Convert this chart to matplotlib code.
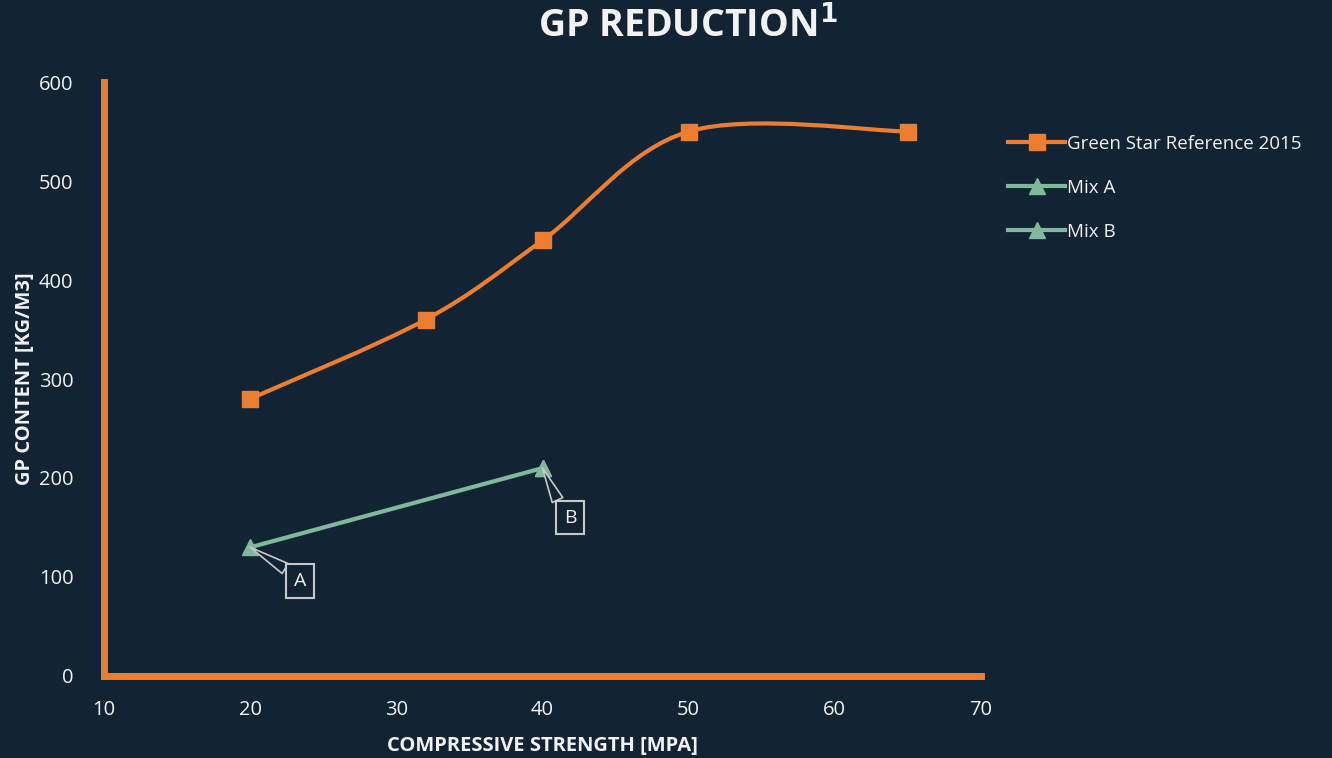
import matplotlib.pyplot as plt
from matplotlib.path import Path
from matplotlib.patches import PathPatch

plt.rcParams['font.family'] = ['Open Sans', 'DejaVu Sans']

bg = '#122434'
orange = '#ed7d31'
green = '#7fb89a'
txt = '#f2f2f2'

ref_x = [20, 32, 40, 50, 65]
ref_y = [280, 360, 440, 550, 550]
mix_a_x = [20, 40]
mix_a_y = [130, 210]
mix_b_x = [40]
mix_b_y = [210]


def smooth_path(xs, ys):
    # excel-like smoothed line: bezier segments, tension 1/6
    pts = list(zip(xs, ys))
    n = len(pts)
    verts = [pts[0]]
    codes = [Path.MOVETO]
    for i in range(n - 1):
        p0 = pts[i - 1] if i > 0 else pts[i]
        p1 = pts[i]
        p2 = pts[i + 1]
        p3 = pts[i + 2] if i + 2 < n else pts[i + 1]
        c1 = (p1[0] + (p2[0] - p0[0]) / 6, p1[1] + (p2[1] - p0[1]) / 6)
        c2 = (p2[0] - (p3[0] - p1[0]) / 6, p2[1] - (p3[1] - p1[1]) / 6)
        verts += [c1, c2, p2]
        codes += [Path.CURVE4] * 3
    return Path(verts, codes)


fig = plt.figure(figsize=(13.32, 7.58), dpi=100, facecolor=bg)
ax = fig.add_axes([0.0781, 0.1082, 0.6584, 0.7836], facecolor=bg)

ax.add_patch(PathPatch(smooth_path(ref_x, ref_y), fc='none', ec=orange, lw=3, zorder=3))
ax.plot(ref_x, ref_y, color=orange, lw=3, marker='s', ms=12, ls='none', zorder=4)
# legend proxies
ax.plot([], [], color=orange, lw=3, marker='s', ms=12, label='Green Star Reference 2015')
ax.plot(mix_a_x, mix_a_y, color=green, lw=3, marker='^', ms=12, label='Mix A', zorder=4)
ax.plot(mix_b_x, mix_b_y, color=green, lw=3, marker='^', ms=12, label='Mix B', zorder=4)

box = dict(boxstyle='square,pad=0.4', fc=bg, ec='#c8c8c8', lw=1.5)
wedge = dict(arrowstyle='wedge,tail_width=0.6', fc=bg, ec='#c8c8c8', lw=1.2, shrinkA=0, shrinkB=0)
ax.annotate('A', xy=(mix_a_x[0], mix_a_y[0]), xytext=(23.4, 96), color=txt, fontsize=14,
            ha='center', va='center', bbox=box, arrowprops=dict(wedge, relpos=(0, 0.9)), zorder=5)
ax.annotate('B', xy=(mix_b_x[0], mix_b_y[0]), xytext=(41.9, 160), color=txt, fontsize=14,
            ha='center', va='center', bbox=box, arrowprops=dict(wedge, relpos=(0, 0.7)), zorder=5)

ax.set_xlim(10, 70)
ax.set_ylim(0, 600)
ax.set_xticks(range(10, 71, 10))
ax.set_yticks(range(0, 601, 100))
for s in ['top', 'right']:
    ax.spines[s].set_visible(False)
for s in ['left', 'bottom']:
    ax.spines[s].set_color(orange)
    ax.spines[s].set_linewidth(5)
ax.tick_params(length=0, colors=txt, labelsize=14.5)
ax.tick_params(axis='y', pad=22)
ax.tick_params(axis='x', pad=17)

ax.set_xlabel('COMPRESSIVE STRENGTH [MPA]', color=txt, fontsize=14.5, fontweight='bold', labelpad=12)
ax.set_ylabel('GP CONTENT [KG/M3]', color=txt, fontsize=14.5, fontweight='bold', labelpad=3)

fig.text(0.516, 0.966, 'GP REDUCTION$^{\\mathbf{1}}$', color=txt, fontsize=27, fontweight='bold',
         ha='center', va='center')

leg = ax.legend(loc='upper left', bbox_to_anchor=(1.012, 0.94), frameon=False, fontsize=13.5,
                labelcolor=txt, handlelength=3.0, handletextpad=0.1, labelspacing=1.4)

fig.savefig('out.png', dpi=100, facecolor=bg)
